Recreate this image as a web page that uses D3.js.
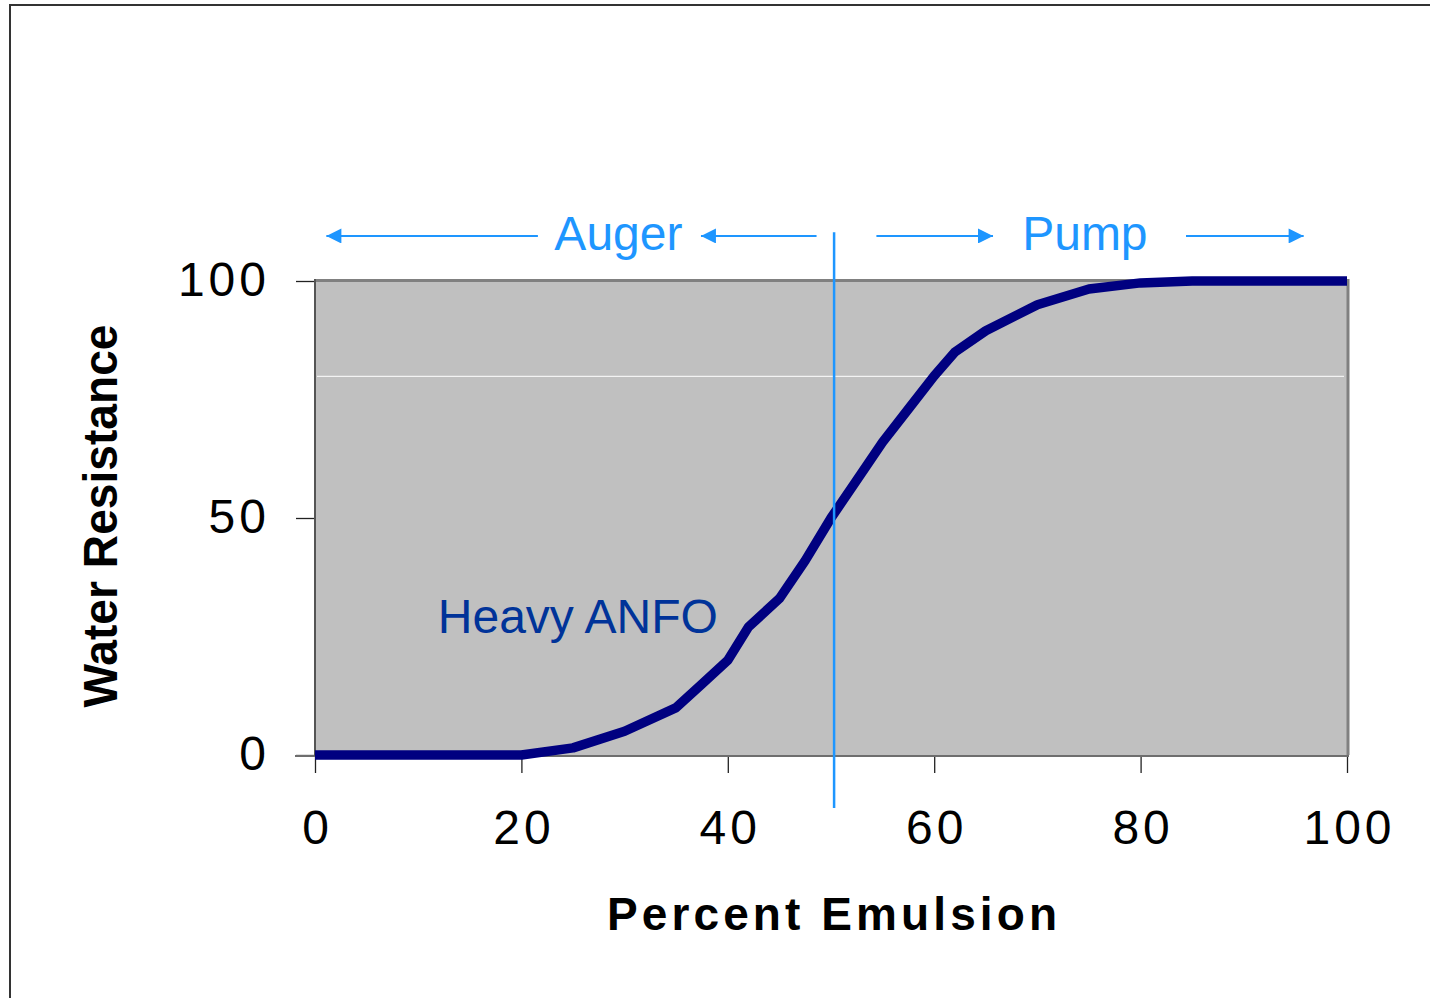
<!DOCTYPE html>
<html>
<head>
<meta charset="utf-8">
<script src="https://cdn.jsdelivr.net/npm/d3@7"></script>
<style>
  body { margin: 0; background: #fff; }
  svg { display: block; font-family: "Liberation Sans", Arial, sans-serif; }
</style>
</head>
<body>
<div id="chart"></div>
<script>
// Heavy ANFO water resistance vs percent emulsion
var emulsion = [0, 5, 10, 15, 20, 25, 30, 35, 37.5, 40, 42, 45, 47.5, 50, 52.5, 55, 57.5, 60, 62, 65, 70, 75, 80, 85, 90, 95, 100];
var resistance = [0, 0, 0, 0, 0, 1.5, 5, 10, 15, 20, 27, 33, 41, 50, 58, 66, 73, 80, 85, 89.5, 95, 98.3, 99.6, 100, 100, 100, 100];
var xTicks = [0, 20, 40, 60, 80, 100];
var yTicks = [0, 50, 100];
var gridValues = [80];

// annotation arrows above the plot (data units)
var arrowFrom = [21.6, 48.6, 54.4, 84.4];
var arrowTo = [1.1, 37.4, 65.7, 95.8];
var zoneLabels = ["Auger", "Pump"];
var zoneLabelX = [29.4, 74.6];
var dividerX = 50.3;

var width = 1430, height = 998;

var svg = d3.select("#chart").append("svg")
  .attr("width", width)
  .attr("height", height);

var x = d3.scaleLinear().domain([0, 100]).range([315, 1347]);
var y = d3.scaleLinear().domain([0, 100]).range([755, 281]);

// outer frame (left and top edges)
svg.append("path")
  .attr("d", "M10,998V5H1430")
  .attr("fill", "none")
  .attr("stroke", "#333")
  .attr("stroke-width", 2);

// plot area
svg.append("rect")
  .attr("x", x(0)).attr("y", y(100))
  .attr("width", x(100) - x(0)).attr("height", y(0) - y(100))
  .attr("fill", "#c0c0c0");

svg.selectAll(".grid")
  .data(gridValues)
  .enter().append("line")
  .attr("class", "grid")
  .attr("x1", x(0) + 2).attr("x2", x(100) - 3)
  .attr("y1", function(d) { return y(d) + 0.5; })
  .attr("y2", function(d) { return y(d) + 0.5; })
  .attr("stroke", "#fff")
  .attr("stroke-width", 1);

// plot area top / right border
svg.append("path")
  .attr("d", "M" + x(0) + "," + (y(100) - 0.5) + "H" + (x(100) + 1) + "V" + y(0))
  .attr("fill", "none")
  .attr("stroke", "#808080")
  .attr("stroke-width", 3);

// axes
var xAxis = d3.axisBottom(x).tickValues(xTicks).tickSize(18).tickPadding(37);
var yAxis = d3.axisLeft(y).tickValues(yTicks).tickSize(19).tickPadding(26);

var gx = svg.append("g")
  .attr("transform", "translate(0," + y(0) + ")")
  .call(xAxis);
var gy = svg.append("g")
  .attr("transform", "translate(" + x(0) + ",0)")
  .call(yAxis);

gx.select(".domain").remove();
gy.select(".domain").remove();

svg.append("line")
  .attr("x1", x(0) - 20).attr("x2", x(100) + 2)
  .attr("y1", y(0) + 1).attr("y2", y(0) + 1)
  .attr("stroke", "#6e6e6e").attr("stroke-width", 2);
svg.append("line")
  .attr("x1", x(0)).attr("x2", x(0))
  .attr("y1", y(100) - 2).attr("y2", y(0) + 1)
  .attr("stroke", "#555").attr("stroke-width", 2);

[gx, gy].forEach(function(g) {
  g.selectAll(".tick line").attr("stroke", "#222").attr("stroke-width", 1.3);
  g.selectAll(".tick text")
    .attr("fill", "#000")
    .style("font-size", "48px")
    .style("letter-spacing", "4px")
    .style("font-family", "'Liberation Sans', Arial, sans-serif");
});
gx.selectAll(".tick text").attr("dx", "2px");
gy.selectAll(".tick text").attr("dy", "0.3em");

// the curve
var line = d3.line()
  .x(function(d) { return x(d[0]); })
  .y(function(d) { return y(d[1]); });

svg.append("path")
  .datum(d3.zip(emulsion, resistance))
  .attr("d", line)
  .attr("fill", "none")
  .attr("stroke", "#000080")
  .attr("stroke-width", 9.5)
  .attr("stroke-linejoin", "round");

svg.append("text")
  .attr("x", x(11.9)).attr("y", y(25.7))
  .attr("fill", "#003399")
  .style("font-size", "48px")
  .text("Heavy ANFO");

// divider between auger and pump
svg.append("line")
  .attr("x1", x(dividerX)).attr("x2", x(dividerX))
  .attr("y1", y(110.3)).attr("y2", y(-11.2))
  .attr("stroke", "#1e96ff")
  .attr("stroke-width", 2.5);

// arrows
svg.append("defs").append("marker")
  .attr("id", "head")
  .attr("viewBox", "0 0 10 10")
  .attr("refX", 10).attr("refY", 5)
  .attr("markerUnits", "userSpaceOnUse")
  .attr("markerWidth", 16).attr("markerHeight", 15)
  .attr("orient", "auto")
  .append("path")
  .attr("d", "M0,0L10,5L0,10Z")
  .attr("fill", "#1e96ff");

svg.selectAll(".arrow")
  .data(d3.zip(arrowFrom, arrowTo))
  .enter().append("line")
  .attr("class", "arrow")
  .attr("x1", function(d) { return x(d[0]); })
  .attr("x2", function(d) { return x(d[1]); })
  .attr("y1", y(109.5)).attr("y2", y(109.5))
  .attr("stroke", "#1e96ff")
  .attr("stroke-width", 2)
  .attr("marker-end", "url(#head)");

svg.selectAll(".zone")
  .data(d3.zip(zoneLabels, zoneLabelX))
  .enter().append("text")
  .attr("class", "zone")
  .attr("x", function(d) { return x(d[1]); })
  .attr("y", y(106.5))
  .attr("text-anchor", "middle")
  .attr("fill", "#1e96ff")
  .style("font-size", "48px")
  .text(function(d) { return d[0]; });

// axis titles
svg.append("text")
  .attr("x", 832).attr("y", 930)
  .attr("text-anchor", "middle")
  .attr("textLength", 450)
  .attr("lengthAdjust", "spacing")
  .style("font-size", "46px")
  .style("font-weight", "bold")
  .text("Percent Emulsion");

svg.append("text")
  .attr("transform", "translate(117,516) rotate(-90)")
  .attr("text-anchor", "middle")
  .attr("textLength", 383)
  .attr("lengthAdjust", "spacingAndGlyphs")
  .style("font-size", "48px")
  .style("font-weight", "bold")
  .text("Water Resistance");
</script>
</body>
</html>
